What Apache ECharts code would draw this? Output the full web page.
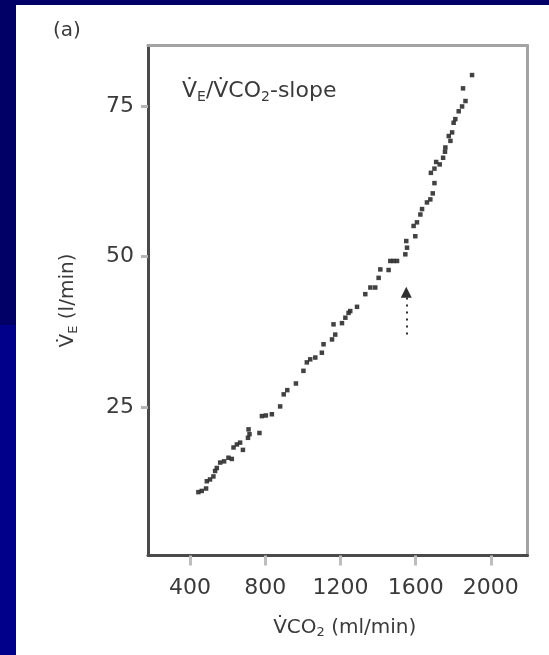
<!DOCTYPE html>
<html>
<head>
<meta charset="utf-8">
<script src="https://cdn.jsdelivr.net/npm/echarts@6/dist/echarts.min.js"></script>
<style>
  html, body { margin: 0; padding: 0; background: #ffffff; }
  #chart { width: 549px; height: 655px; }
</style>
</head>
<body>
<div id="chart"></div>
<script>
// Minute ventilation against CO2 output during incremental exercise
const vco2 = [444, 462, 485, 489, 506, 524, 533, 542, 560, 581, 604, 622, 631, 649, 666, 681,
  708, 711, 716, 769, 782, 803, 835, 879, 898, 917, 963,
  1003, 1021, 1039, 1066, 1101, 1110, 1155, 1172, 1163, 1208, 1226, 1243, 1252, 1288,
  1332, 1359, 1385, 1403, 1412, 1456, 1465, 1482, 1501, 1545, 1554, 1550, 1598, 1589,
  1607, 1625, 1634, 1660, 1678, 1691, 1700, 1681, 1700, 1728, 1709, 1746, 1756,
  1758, 1785, 1776, 1794, 1802, 1811, 1829, 1847, 1865, 1852, 1900];
const ve = [11.0, 11.2, 11.6, 12.8, 13.1, 13.6, 14.5, 15.0, 15.9, 16.1, 16.7, 16.5, 18.4, 18.9, 19.2, 18.0,
  20.0, 21.4, 20.6, 20.8, 23.6, 23.7, 23.9, 25.2, 27.2, 27.9, 29.0,
  31.1, 32.5, 33.0, 33.3, 34.1, 35.5, 36.3, 37.1, 38.8, 39.0, 39.9, 40.7, 41.0, 41.7,
  43.8, 44.9, 44.9, 46.5, 47.9, 47.8, 49.3, 49.3, 49.3, 50.4, 51.5, 52.6, 53.4, 55.1,
  55.7, 57.0, 57.9, 59.0, 59.5, 60.5, 62.2, 63.9, 64.6, 65.3, 65.7, 66.4, 67.4,
  68.1, 69.2, 70.0, 70.6, 72.2, 72.8, 74.1, 74.9, 75.8, 77.9, 80.1];

// Arrow marking the break point of the slope
const arrowX = 1550;
const arrowFrom = 37.1;
const arrowTo = 44.1;

const xTicks = [400, 800, 1200, 1600, 2000];
const yTicks = [25, 50, 75];

const FONT = 'DejaVu Sans';
const TEXT = '#3a3a3a';

const points = vco2.map((x, i) => [x, ve[i]]);

const richText = (size, subSize) => ({
  n: { fontFamily: FONT, fontSize: size, fontWeight: 'normal', color: TEXT, lineHeight: size + 4, verticalAlign: 'middle' },
  s: { fontFamily: FONT, fontSize: subSize, fontWeight: 'normal', color: TEXT, lineHeight: subSize + 1, verticalAlign: 'bottom' }
});

const chart = echarts.init(document.getElementById('chart'), null, { renderer: 'canvas' });

chart.setOption({
  backgroundColor: '#ffffff',
  animation: false,
  graphic: [
    { type: 'rect', left: 0, top: 0, shape: { width: 549, height: 5 }, style: { fill: '#000066' } },
    { type: 'rect', left: 0, top: 0, shape: { width: 16, height: 325 }, style: { fill: '#000066' } },
    { type: 'rect', left: 0, top: 325, shape: { width: 16, height: 330 }, style: { fill: '#00008a' } }
  ],
  title: [
    {
      text: '(a)', left: 48, top: 16,
      textStyle: { fontFamily: FONT, fontSize: 20, fontWeight: 'normal', color: TEXT }
    },
    {
      text: '{n|V\u0307}{s|E}{n|/V\u0307CO}{s|2}{n|-slope}', left: 177, top: 73,
      textStyle: { fontWeight: 'normal', rich: richText(22, 14) }
    }
  ],
  grid: { left: 148, right: 21.5, top: 45.5, bottom: 99.5, containLabel: false },
  xAxis: [
    {
      type: 'value', min: 176, max: 2195, position: 'bottom',
      name: '{n|V\u0307CO}{s|2}{n| (ml/min)}',
      nameLocation: 'middle', nameGap: 60,
      nameTextStyle: { padding: [0, 0, 0, 14], rich: richText(20, 13) },
      axisLine: { show: true, onZero: false, lineStyle: { color: '#4a4a4a', width: 3 } },
      axisTick: { show: true, customValues: xTicks, length: 10, lineStyle: { color: '#bdbdbd', width: 3 } },
      axisLabel: {
        customValues: xTicks, margin: 22, fontFamily: FONT, fontSize: 22, color: TEXT,
        formatter: (v) => String(v)
      },
      splitLine: { show: false }
    },
    {
      type: 'value', min: 176, max: 2195, position: 'top',
      axisLine: { show: true, onZero: false, lineStyle: { color: '#a3a3a3', width: 3 } },
      axisTick: { show: false }, axisLabel: { show: false }, splitLine: { show: false }
    }
  ],
  yAxis: [
    {
      type: 'value', min: 0.5, max: 85, position: 'left',
      name: '{n|V\u0307}{s|E}{n| (l/min)}',
      nameLocation: 'middle', nameGap: 68, nameRotate: 90,
      nameTextStyle: { rich: richText(20, 13) },
      axisLine: { show: true, onZero: false, lineStyle: { color: '#4a4a4a', width: 3 } },
      axisTick: { show: true, customValues: yTicks, length: 7, lineStyle: { color: '#b5b5b5', width: 3 } },
      axisLabel: {
        customValues: yTicks, margin: 14, fontFamily: FONT, fontSize: 22, color: TEXT,
        formatter: (v) => String(v)
      },
      splitLine: { show: false }
    },
    {
      type: 'value', min: 0.5, max: 85, position: 'right',
      axisLine: { show: true, onZero: false, lineStyle: { color: '#a3a3a3', width: 3 } },
      axisTick: { show: false }, axisLabel: { show: false }, splitLine: { show: false }
    }
  ],
  series: [
    {
      type: 'scatter',
      data: points,
      symbol: 'rect',
      symbolSize: 4.5,
      itemStyle: { color: '#2e2e2e', opacity: 0.9 },
      silent: true,
      markLine: {
        silent: true,
        symbol: ['none', 'triangle'],
        symbolSize: 11,
        label: { show: false },
        lineStyle: { color: '#303030', width: 2, type: [2, 5] },
        data: [[{ coord: [arrowX, arrowFrom] }, { coord: [arrowX, arrowTo] }]]
      }
    }
  ]
});
</script>
</body>
</html>
